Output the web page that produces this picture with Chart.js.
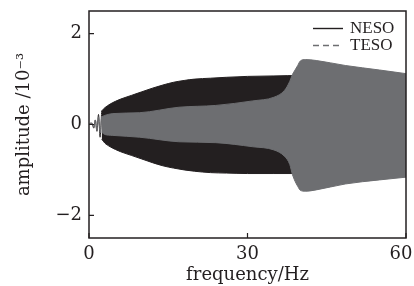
<!DOCTYPE html>
<html>
<head>
<meta charset="utf-8">
<script src="https://cdn.jsdelivr.net/npm/chart.js@4.4.0/dist/chart.umd.min.js"></script>
<style>
  html, body { margin: 0; padding: 0; background: #fff; }
  #wrap { width: 414px; height: 286px; }
</style>
</head>
<body>
<div id="wrap"><canvas id="chart"></canvas></div>
<script>
// ── Veriler (amplitude ×10^-3, frequency Hz) ────────────────────────────
const xTicks = [0, 30, 60];
const yTicks = [-2, 0, 2];

// start-up wiggle, before the bands open
const wiggleFreq = [0, 0.3, 0.6, 0.9, 1.2, 1.5, 1.8, 2.1, 2.4];
const nesoWiggle = [0, 0.03, 0.02, -0.08, 0.1, -0.15, 0.22, -0.28, 0.3];
const tesoWiggle = [0, 0.02, 0.03, -0.06, 0.1, -0.14, 0.17, -0.18, 0.17];

// NESO envelope
const nesoFreq  = [2.4, 3, 4, 5, 6, 8, 10, 12, 14, 16, 18, 20, 23, 26, 30, 35, 40, 45, 50, 55, 60];
const nesoUpper = [0.3, 0.37, 0.45, 0.51, 0.56, 0.64, 0.72, 0.8, 0.87, 0.93, 0.97, 1.0, 1.02, 1.04, 1.06, 1.07, 1.08, 1.08, 1.08, 1.08, 1.08];
const nesoLower = [-0.32, -0.41, -0.49, -0.55, -0.6, -0.68, -0.76, -0.84, -0.91, -0.96, -1.0, -1.03, -1.06, -1.07, -1.08, -1.08, -1.08, -1.08, -1.08, -1.08, -1.08];

// TESO envelope
const tesoFreq  = [2.4, 3, 4.5, 9.6, 17, 24, 31, 35, 37, 38, 38.5, 39, 39.5, 40, 41, 43, 48.5, 55, 60];
const tesoUpper = [0.17, 0.2, 0.24, 0.26, 0.38, 0.42, 0.52, 0.6, 0.75, 0.95, 1.1, 1.2, 1.3, 1.4, 1.43, 1.41, 1.3, 1.2, 1.12];
const tesoLower = [-0.17, -0.22, -0.24, -0.28, -0.38, -0.4, -0.49, -0.56, -0.7, -0.88, -1.1, -1.25, -1.36, -1.45, -1.47, -1.44, -1.31, -1.22, -1.16];

// ── Stil ─────────────────────────────────────────────────────────────────
const BLACK = '#231f20';
const GREY = '#6d6e71';
const axisFont = { family: 'DejaVu Serif', size: 18 };

const pts = (xs, ys) => xs.map((x, i) => ({ x: x, y: ys[i] }));

function band(label, xs, ys, color, fill, order) {
    return {
        label: label,
        data: pts(xs, ys),
        borderColor: color,
        backgroundColor: color,
        borderWidth: 1,
        pointRadius: 0,
        cubicInterpolationMode: 'monotone',
        fill: fill,
        order: order
    };
}

// ── Son x etiketi ("60") kenarda kesilmesin diye biraz sola ──────────────
const lastLabelPlugin = {
    id: 'lastLabel',
    beforeDraw(chart) {
        const xs = chart.scales.x;
        const items = xs.getLabelItems();
        const last = items[items.length - 1];
        if (last) last.options.translation[0] = xs.getPixelForValue(xTicks[xTicks.length - 1]) - 5;
    }
};

// ── Çerçeve + içe dönük tick'ler ─────────────────────────────────────────
const framePlugin = {
    id: 'frame',
    afterDatasetsDraw(chart) {
        const { ctx, chartArea: a, scales } = chart;
        ctx.save();
        ctx.strokeStyle = BLACK;
        ctx.lineWidth = 1.5;
        ctx.strokeRect(a.left, a.top, a.right - a.left, a.bottom - a.top);
        ctx.lineWidth = 1.2;
        ctx.beginPath();
        xTicks.forEach(v => {
            const px = scales.x.getPixelForValue(v);
            ctx.moveTo(px, a.bottom);
            ctx.lineTo(px, a.bottom - 5);
        });
        yTicks.forEach(v => {
            const py = scales.y.getPixelForValue(v);
            ctx.moveTo(a.left, py);
            ctx.lineTo(a.left + 5, py);
        });
        ctx.stroke();
        ctx.restore();
    }
};

// ── Lejant (grafik alanı içinde, sağ üst) ────────────────────────────────
const legendPlugin = {
    id: 'innerLegend',
    afterDraw(chart) {
        const { ctx, chartArea: a } = chart;
        const rows = [
            { text: 'NESO', color: BLACK, dash: [] , y: a.top + 17 },
            { text: 'TESO', color: GREY, dash: [6, 4], y: a.top + 34 }
        ];
        ctx.save();
        ctx.font = '17px "Liberation Serif"';
        ctx.textBaseline = 'middle';
        rows.forEach(r => {
            ctx.strokeStyle = r.color;
            ctx.lineWidth = 1.4;
            ctx.setLineDash(r.dash);
            ctx.beginPath();
            ctx.moveTo(a.right - 93, r.y + 0.5);
            ctx.lineTo(a.right - 63, r.y + 0.5);
            ctx.stroke();
            ctx.fillStyle = BLACK;
            ctx.fillText(r.text, a.right - 56, r.y + 1);
        });
        ctx.restore();
    }
};

new Chart(document.getElementById('chart'), {
    type: 'line',
    data: {
        datasets: [
            band('TESO wiggle', wiggleFreq, tesoWiggle, GREY, false, 0),
            band('TESO upper', tesoFreq, tesoUpper, GREY, '+1', 1),
            band('TESO lower', tesoFreq, tesoLower, GREY, false, 1),
            band('NESO wiggle', wiggleFreq, nesoWiggle, BLACK, false, 2),
            band('NESO upper', nesoFreq, nesoUpper, BLACK, '+1', 3),
            band('NESO lower', nesoFreq, nesoLower, BLACK, false, 3)
        ]
    },
    options: {
        responsive: true,
        maintainAspectRatio: false,
        animation: false,
        layout: { padding: { top: 11, right: 8, left: 0, bottom: 0 } },
        plugins: {
            legend: { display: false },
            tooltip: { enabled: false }
        },
        scales: {
            x: {
                type: 'linear',
                min: 0,
                max: 60,
                afterBuildTicks: s => { s.ticks = xTicks.map(v => ({ value: v })); },
                afterFit: s => { s.height = 48; s.paddingLeft = 0; s.paddingRight = 0; },
                grid: { display: false, drawTicks: false },
                border: { display: false },
                ticks: { font: axisFont, color: BLACK, padding: 6, maxRotation: 0, autoSkip: false },
                title: { display: true, text: 'frequency/Hz', font: axisFont, color: BLACK, padding: { top: 6, bottom: 0 } }
            },
            y: {
                type: 'linear',
                min: -2.5,
                max: 2.5,
                afterBuildTicks: s => { s.ticks = yTicks.map(v => ({ value: v })); },
                afterFit: s => { s.width = 89; s.paddingTop = 0; s.paddingBottom = 0; },
                grid: { display: false, drawTicks: false },
                border: { display: false },
                ticks: {
                    font: axisFont, color: BLACK, padding: 7,
                    callback: v => String(v).replace('-', '\u2212')
                },
                title: { display: true, text: 'amplitude /10\u207B\u00B3', font: axisFont, color: BLACK, padding: { top: 14, bottom: 0 } }
            }
        }
    },
    plugins: [lastLabelPlugin, framePlugin, legendPlugin]
});
</script>
</body>
</html>
